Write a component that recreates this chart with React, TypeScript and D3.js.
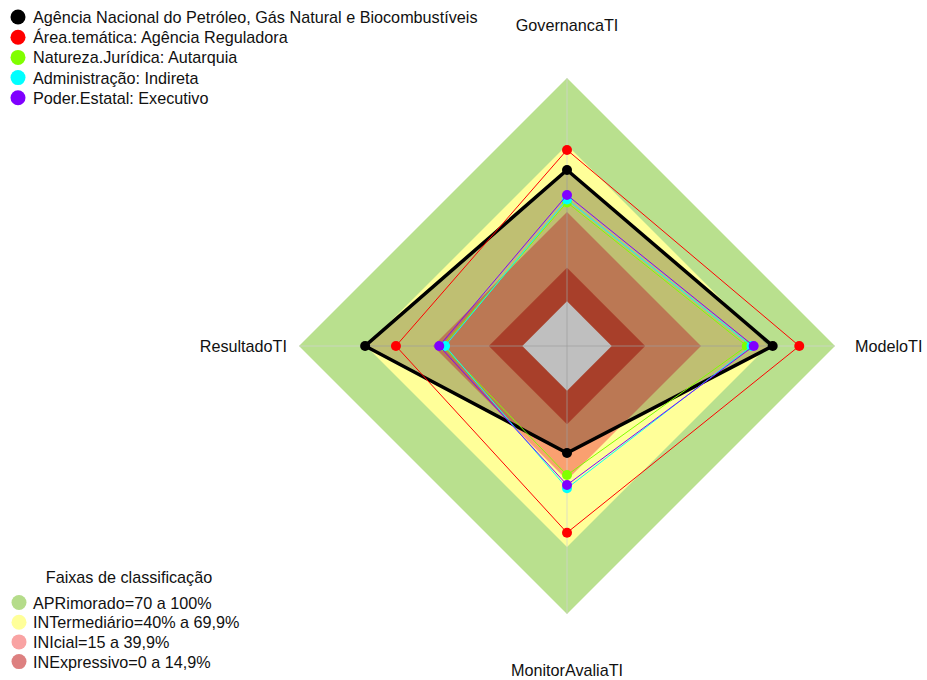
import React from 'react';
import * as d3 from 'd3';

const axes = ['GovernancaTI', 'ModeloTI', 'MonitorAvaliaTI', 'ResultadoTI'];

const seriesNames = [
  'Agência Nacional do Petróleo, Gás Natural e Biocombustíveis',
  'Área.temática: Agência Reguladora',
  'Natureza.Jurídica: Autarquia',
  'Administração: Indireta',
  'Poder.Estatal: Executivo',
];
const seriesColors = ['#000000', '#ff0000', '#80ff00', '#00ffff', '#8000ff'];

// values per axis (GovernancaTI, ModeloTI, MonitorAvaliaTI, ResultadoTI)
const agencia = [58.8, 72.1, 27.9, 70.4];
const areaTematica = [67.8, 84.0, 63.6, 56.6];
const natureza = [44.3, 60.5, 37.8, 35.6];
const administracao = [45.6, 62.6, 43.7, 34.6];
const poder = [47.6, 63.6, 42.2, 37.2];
const seriesValues = [agencia, areaTematica, natureza, administracao, poder];

// classification bands (outer limit, fill as drawn)
const bandLimits = [100, 70, 40, 15, 0];
const bandFills = ['#b9e08e', '#ffff99', '#faa070', '#e05538', '#ffffff'];

const bandLabels = [
  'APRimorado=70 a 100%',
  'INTermediário=40% a 69,9%',
  'INIcial=15 a 39,9%',
  'INExpressivo=0 a 14,9%',
];
const bandLegendColors = ['#b5dc8a', '#ffff99', '#f9a3a3', '#dd8080'];

const width = 927;
const height = 680;
const cx = 567;
const cy = 346;
const font = '"Liberation Sans", Arial, sans-serif';
const fs = 16.2;

export default function App() {
  const r = d3.scaleLinear().domain([-20, 100]).range([0, 268]);
  const angle = d3.scaleOrdinal<string, number>()
    .domain(axes)
    .range(axes.map((_, i) => (i * 2 * Math.PI) / axes.length));

  const radial = d3.lineRadial<number>()
    .angle((_, i) => angle(axes[i]))
    .radius(d => r(d))
    .curve(d3.curveLinearClosed);

  const pt = (v: number, i: number) => {
    const a = angle(axes[i]) - Math.PI / 2;
    return [Math.cos(a) * r(v), Math.sin(a) * r(v)];
  };

  const labelPos = [
    { x: 0, y: -315, anchor: 'middle' },
    { x: 288, y: 6, anchor: 'start' },
    { x: 0, y: 330, anchor: 'middle' },
    { x: -280, y: 6, anchor: 'end' },
  ];

  return (
    <svg width={width} height={height} style={{ position: 'absolute', left: 0, top: 0, fontFamily: font }}>
      <rect width={width} height={height} fill="#ffffff" />
      <g transform={`translate(${cx},${cy})`}>
        {bandLimits.map((lim, i) => (
          <path key={i} d={radial(axes.map(() => lim)) || ''} fill={bandFills[i]} />
        ))}
        {axes.map((a, i) => {
          const [x, y] = pt(100, i);
          return <line key={a} x1={0} y1={0} x2={x} y2={y} stroke="#d2d2d2" strokeOpacity={0.7} strokeWidth={1} />;
        })}
        <path d={radial(agencia) || ''} fill="rgba(0,0,0,0.25)" stroke="none" />
        {seriesValues.map((vals, s) => (
          <g key={s}>
            <path
              d={radial(vals) || ''}
              fill="none"
              stroke={seriesColors[s]}
              strokeWidth={s === 0 ? 3.5 : 1}
              strokeLinejoin="miter"
            />
            {vals.map((v, i) => {
              const [x, y] = pt(v, i);
              return <circle key={i} cx={x} cy={y} r={5} fill={seriesColors[s]} />;
            })}
          </g>
        ))}
        {axes.map((a, i) => (
          <text key={a} x={labelPos[i].x} y={labelPos[i].y} textAnchor={labelPos[i].anchor as any} fontSize={fs} fill="#111">
            {a}
          </text>
        ))}
      </g>

      <g>
        {seriesNames.map((n, i) => (
          <g key={n} transform={`translate(0,${17 + i * 20.2})`}>
            <circle cx={18} cy={0} r={7.5} fill={seriesColors[i]} />
            <text x={33} y={6} fontSize={fs} fill="#111">{n}</text>
          </g>
        ))}
      </g>

      <g>
        <text x={129} y={583} textAnchor="middle" fontSize={fs} fill="#111">Faixas de classificação</text>
        {bandLabels.map((b, i) => (
          <g key={b} transform={`translate(0,${602.5 + i * 19.7})`}>
            <circle cx={19} cy={0} r={7.5} fill={bandLegendColors[i]} />
            <text x={33} y={6} fontSize={fs} fill="#111">{b}</text>
          </g>
        ))}
      </g>
    </svg>
  );
}
